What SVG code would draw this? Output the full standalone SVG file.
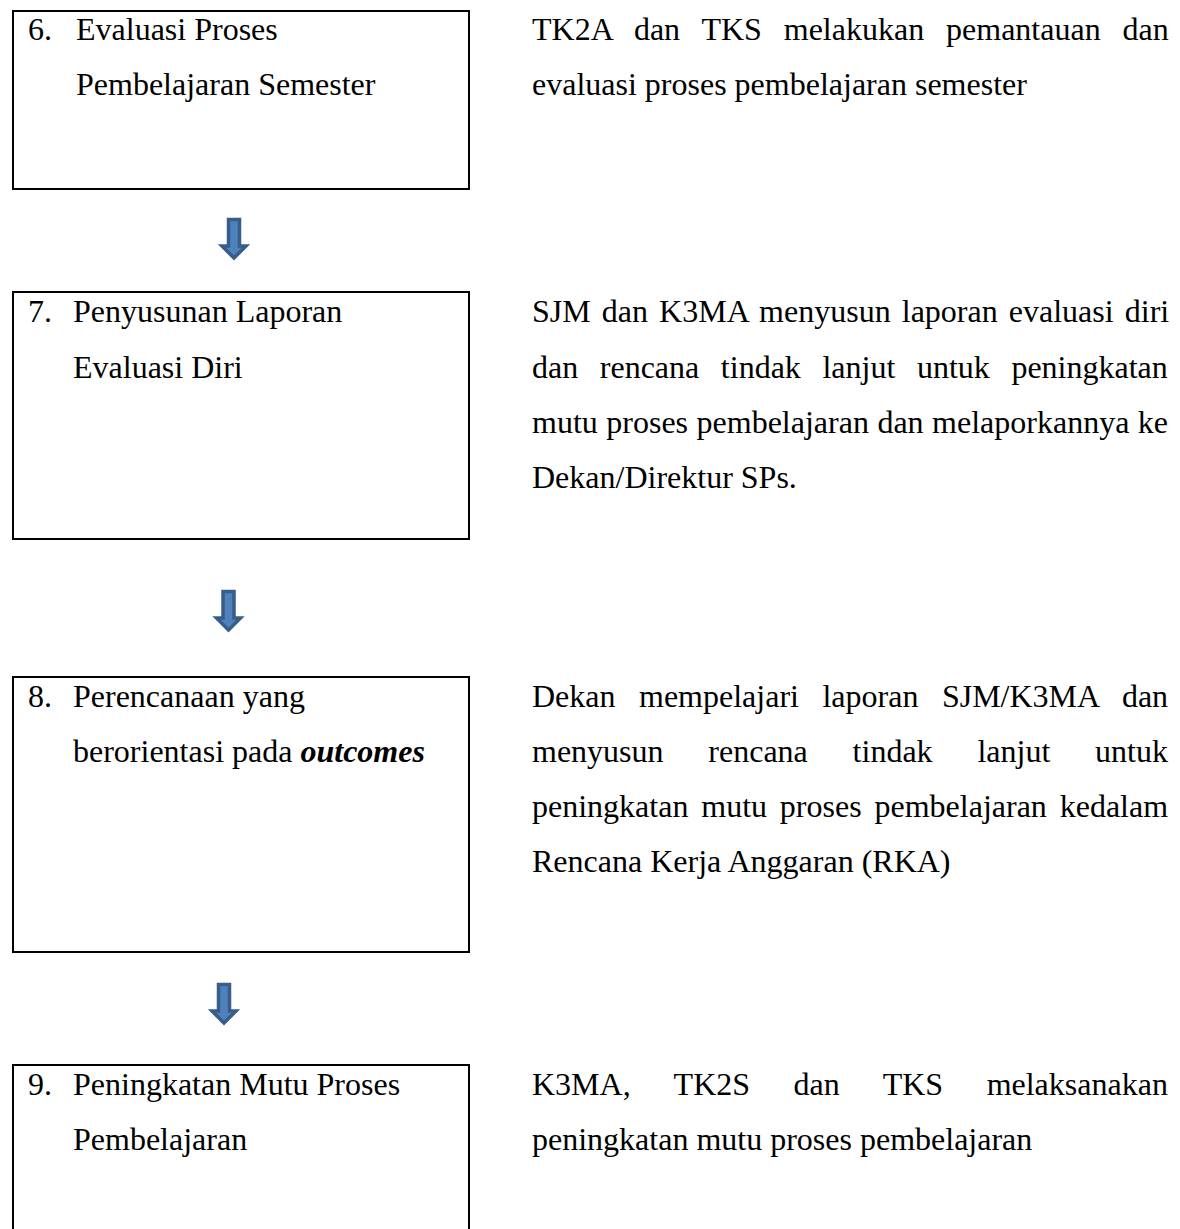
<svg xmlns="http://www.w3.org/2000/svg" xmlns:xlink="http://www.w3.org/1999/xlink" width="1180" height="1229" viewBox="0 0 1180 1229">
<style>
text{font-family:"Liberation Serif","Times New Roman",serif;font-size:32px;fill:#000}
.box{fill:none;stroke:#000;stroke-width:2}
.arrow{fill:#4F81BD;stroke:#385D8A;stroke-width:3.5;stroke-linejoin:miter}
.bi{font-weight:bold;font-style:italic}
</style>
<defs>
<path id="arr" class="arrow" d="M-5.5,1.5 H5.5 V28 H12 L0,40 L-12,28 H-5.5 Z"/>
</defs>
<rect width="1180" height="1229" fill="#fff"/>
<g id="n6">
<rect class="box" x="13" y="11" width="456" height="178"/>
<text x="28" y="40">6.</text>
<text x="76" y="40">Evaluasi Proses</text>
<text x="76" y="95">Pembelajaran Semester</text>
</g>
<g id="d6">
<text x="532" y="40" word-spacing="13.9">TK2A dan TKS melakukan pemantauan dan</text>
<text x="532" y="95">evaluasi proses pembelajaran semester</text>
</g>
<g id="n7">
<rect class="box" x="13" y="292" width="456" height="247"/>
<text x="28" y="322">7.</text>
<text x="73" y="322">Penyusunan Laporan</text>
<text x="73" y="378">Evaluasi Diri</text>
</g>
<g id="d7">
<text x="532" y="322" word-spacing="3.1">SJM dan K3MA menyusun laporan evaluasi diri</text>
<text x="532" y="378" word-spacing="13.6">dan rencana tindak lanjut untuk peningkatan</text>
<text x="532" y="433" word-spacing="0.5">mutu proses pembelajaran dan melaporkannya ke</text>
<text x="532" y="488">Dekan/Direktur SPs.</text>
</g>
<g id="n8">
<rect class="box" x="13" y="677" width="456" height="275"/>
<text x="28" y="707">8.</text>
<text x="73" y="707">Perencanaan yang</text>
<text x="73" y="762">berorientasi pada <tspan class="bi">outcomes</tspan></text>
</g>
<g id="d8">
<text x="532" y="707" word-spacing="15.5">Dekan mempelajari laporan SJM/K3MA dan</text>
<text x="532" y="762" word-spacing="36.8">menyusun rencana tindak lanjut untuk</text>
<text x="532" y="817" word-spacing="4.85">peningkatan mutu proses pembelajaran kedalam</text>
<text x="532" y="872">Rencana Kerja Anggaran (RKA)</text>
</g>
<g id="n9">
<rect class="box" x="13" y="1065" width="456" height="200"/>
<text x="28" y="1095">9.</text>
<text x="73" y="1095">Peningkatan Mutu Proses</text>
<text x="73" y="1150">Pembelajaran</text>
</g>
<g id="d9">
<text x="532" y="1095" word-spacing="35.5">K3MA, TK2S dan TKS melaksanakan</text>
<text x="532" y="1150">peningkatan mutu proses pembelajaran</text>
</g>
<g id="connectors">
<use xlink:href="#arr" x="234" y="218"/>
<use xlink:href="#arr" x="228.5" y="590"/>
<use xlink:href="#arr" x="224" y="983"/>
</g>
</svg>
